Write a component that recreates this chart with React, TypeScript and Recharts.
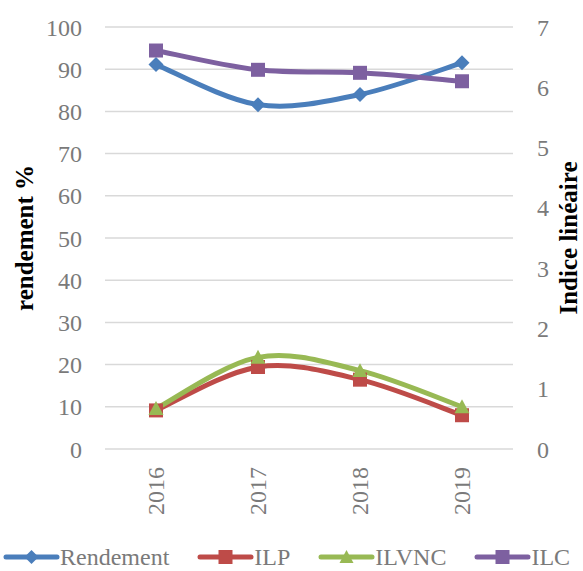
import { LineChart, Line, XAxis, YAxis, CartesianGrid } from "recharts";

const years = ["2016", "2017", "2018", "2019"];
const rendement = [91.1, 81.6, 84.0, 91.5];
const ilp = [0.64, 1.36, 1.15, 0.56];
const ilvnc = [0.67, 1.52, 1.3, 0.7];
const ilc = [6.61, 6.29, 6.24, 6.1];

const leftTicks = [0, 10, 20, 30, 40, 50, 60, 70, 80, 90, 100];
const rightTicks = [0, 1, 2, 3, 4, 5, 6, 7];

const data = years.map((year, i) => ({
  year,
  rendement: rendement[i],
  ilp: ilp[i],
  ilvnc: ilvnc[i],
  ilc: ilc[i],
}));

const FONT = "'Liberation Serif', serif";
const GREY = "#7a7a7a";

type Marker = "diamond" | "square" | "triangle";

const series: { key: string; name: string; color: string; marker: Marker; axis: string }[] = [
  { key: "rendement", name: "Rendement", color: "#4a7ebb", marker: "diamond", axis: "left" },
  { key: "ilp", name: "ILP", color: "#be4b48", marker: "square", axis: "right" },
  { key: "ilvnc", name: "ILVNC", color: "#98b954", marker: "triangle", axis: "right" },
  { key: "ilc", name: "ILC", color: "#7d60a0", marker: "square", axis: "right" },
];

// smoothing close to the office-style bezier (catmull-rom, 1/6 handles)
function smoothCurve(context: any) {
  let pts: number[][] = [];
  return {
    areaStart() {},
    areaEnd() {},
    lineStart() {
      pts = [];
    },
    point(x: number, y: number) {
      pts.push([+x, +y]);
    },
    lineEnd() {
      const n = pts.length;
      if (!n) return;
      context.moveTo(pts[0][0], pts[0][1]);
      for (let i = 0; i < n - 1; i++) {
        const p0 = pts[Math.max(i - 1, 0)];
        const p1 = pts[i];
        const p2 = pts[i + 1];
        const p3 = pts[Math.min(i + 2, n - 1)];
        context.bezierCurveTo(
          p1[0] + (p2[0] - p0[0]) / 6,
          p1[1] + (p2[1] - p0[1]) / 6,
          p2[0] - (p3[0] - p1[0]) / 6,
          p2[1] - (p3[1] - p1[1]) / 6,
          p2[0],
          p2[1]
        );
      }
    },
  };
}

function markerPath(kind: Marker, cx: number, cy: number, r: number) {
  if (kind === "diamond") {
    return `M${cx},${cy - r}L${cx + r},${cy}L${cx},${cy + r}L${cx - r},${cy}Z`;
  }
  if (kind === "triangle") {
    return `M${cx},${cy - r}L${cx + r},${cy + r * 0.85}L${cx - r},${cy + r * 0.85}Z`;
  }
  return `M${cx - r},${cy - r}h${2 * r}v${2 * r}h${-2 * r}Z`;
}

function makeDot(kind: Marker, color: string) {
  return (props: any) => {
    const { cx, cy, index } = props;
    const r = kind === "square" ? 7 : 7.5;
    return <path key={`${kind}-${index}`} d={markerPath(kind, cx, cy, r)} fill={color} />;
  };
}

function YearTick(props: any) {
  const { x, y, payload } = props;
  return (
    <text
      x={x}
      y={y}
      dy="0.35em"
      transform={`rotate(-90, ${x}, ${y})`}
      textAnchor="end"
      fill={GREY}
      fontSize={24}
      fontFamily={FONT}
    >
      {payload.value}
    </text>
  );
}

function axisTitle(text: string, dx: number) {
  return (props: any) => {
    const vb = props.viewBox;
    const x = vb.x + dx;
    const y = vb.y + vb.height / 2;
    return (
      <text
        x={x}
        y={y}
        transform={`rotate(-90, ${x}, ${y})`}
        textAnchor="middle"
        dy="0.35em"
        fontSize={25}
        fontWeight="bold"
        fontFamily={FONT}
        fill="#000"
      >
        {text}
      </text>
    );
  };
}

function LegendRow() {
  return (
    <div
      style={{
        position: "absolute",
        left: 3,
        top: 546,
        height: 22,
        display: "flex",
        alignItems: "center",
        gap: 28,
        fontFamily: FONT,
        fontSize: 24,
        lineHeight: "22px",
        color: GREY,
        whiteSpace: "nowrap",
      }}
    >
      {series.map((s) => (
        <div key={s.key} style={{ display: "flex", alignItems: "center", height: 22 }}>
          <svg width={57} height={20} style={{ display: "block" }}>
            <line x1={3} y1={10} x2={54} y2={10} stroke={s.color} strokeWidth={5} strokeLinecap="round" />
            <path d={markerPath(s.marker, 28.5, 10, 7)} fill={s.color} />
          </svg>
          <span>{s.name}</span>
        </div>
      ))}
    </div>
  );
}

export default function App() {
  return (
    <div style={{ position: "absolute", left: 0, top: 0, width: 583, height: 571, background: "#fff", overflow: "hidden" }}>
      <LineChart
        width={583}
        height={571}
        data={data}
        margin={{ top: 27, right: 0, bottom: 0, left: 0 }}
      >
        <CartesianGrid vertical={false} stroke="#d9d9d9" strokeWidth={1.5} yAxisId="left" />
        <XAxis
          dataKey="year"
          height={122}
          padding={{ left: 51, right: 51 }}
          axisLine={false}
          tickLine={false}
          tickSize={0}
          tickMargin={18}
          tick={<YearTick />}
          interval={0}
        />
        <YAxis
          yAxisId="left"
          orientation="left"
          width={105}
          domain={[0, 100]}
          ticks={leftTicks}
          axisLine={false}
          tickLine={false}
          tickSize={0}
          tickMargin={23}
          tick={{ fill: GREY, fontSize: 24, fontFamily: FONT }}
          label={{ content: axisTitle("rendement %", 24) }}
        />
        <YAxis
          yAxisId="right"
          orientation="right"
          width={70}
          domain={[0, 7]}
          ticks={rightTicks}
          axisLine={false}
          tickLine={false}
          tickSize={0}
          tickMargin={24}
          tick={{ fill: GREY, fontSize: 24, fontFamily: FONT, textAnchor: "start" }}
          label={{ content: axisTitle("Indice linéaire", 55) }}
        />
        {series.map((s) => (
          <Line
            key={s.key}
            yAxisId={s.axis}
            dataKey={s.key}
            name={s.name}
            type={smoothCurve as any}
            stroke={s.color}
            strokeWidth={5}
            dot={makeDot(s.marker, s.color)}
            activeDot={false}
            isAnimationActive={false}
          />
        ))}
      </LineChart>
      <LegendRow />
    </div>
  );
}
